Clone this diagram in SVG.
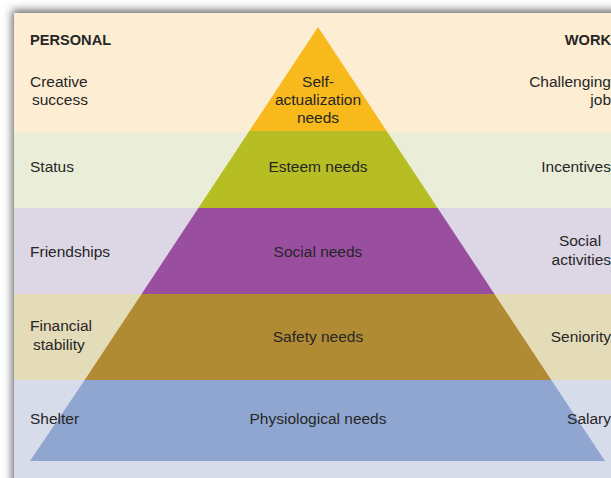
<svg xmlns="http://www.w3.org/2000/svg" width="611" height="478" viewBox="0 0 611 478">
  <defs>
    <filter id="shadow" x="-10%" y="-10%" width="120%" height="120%">
      <feGaussianBlur stdDeviation="4"/>
    </filter>
    <style>
      text { font-family: "Liberation Sans", Arial, sans-serif; font-size: 15.5px; fill: #262626; }
      .head { font-weight: bold; font-size: 14.6px; }
      .mid { text-anchor: middle; }
      .end { text-anchor: end; }
    </style>
  </defs>

  <!-- page and panel shadow -->
  <rect x="0" y="0" width="611" height="478" fill="#ffffff"/>
  <rect x="12" y="10" width="620" height="490" fill="#6a6a6a" filter="url(#shadow)"/>

  <!-- horizontal bands -->
  <g id="bands">
    <rect x="14" y="13" width="597" height="119" fill="#fdeed3"/>
    <rect x="14" y="132" width="597" height="76" fill="#eaeed8"/>
    <rect x="14" y="208" width="597" height="86" fill="#ddd6e5"/>
    <rect x="14" y="294" width="597" height="86" fill="#e4dbb8"/>
    <rect x="14" y="380" width="597" height="98" fill="#d6dcea"/>
  </g>

  <!-- pyramid levels -->
  <g id="self-actualization">
    <polygon points="318,27 386.7,131 249.3,131" fill="#f7b91c"/>
    <text class="mid" x="318" y="87">Self-</text>
    <text class="mid" x="318" y="105">actualization</text>
    <text class="mid" x="318" y="123">needs</text>
  </g>
  <g id="esteem">
    <polygon points="249.3,131 386.7,131 437.6,208 198.4,208" fill="#b6be24"/>
    <text class="mid" x="318" y="172">Esteem needs</text>
  </g>
  <g id="social">
    <polygon points="198.4,208 437.6,208 494.4,294 141.6,294" fill="#9a4ea0"/>
    <text class="mid" x="318" y="257">Social needs</text>
  </g>
  <g id="safety">
    <polygon points="141.6,294 494.4,294 551.3,380 84.7,380" fill="#b08b33"/>
    <text class="mid" x="318" y="342">Safety needs</text>
  </g>
  <g id="physiological">
    <polygon points="84.7,380 551.3,380 605,461 30,461" fill="#8fa7d0"/>
    <text class="mid" x="318" y="424">Physiological needs</text>
  </g>

  <!-- personal column -->
  <g id="personal">
    <text class="head" x="30" y="45">PERSONAL</text>
    <text x="30" y="87">Creative</text>
    <text x="32" y="105">success</text>
    <text x="30" y="172">Status</text>
    <text x="30" y="257">Friendships</text>
    <text x="30" y="331">Financial</text>
    <text x="33" y="350">stability</text>
    <text x="30" y="424">Shelter</text>
  </g>

  <!-- work column -->
  <g id="work">
    <text class="head end" x="611" y="45">WORK</text>
    <text class="end" x="611" y="87">Challenging</text>
    <text class="end" x="611" y="105">job</text>
    <text class="end" x="611" y="172">Incentives</text>
    <text class="mid" x="580" y="246">Social</text>
    <text class="end" x="611" y="265">activities</text>
    <text class="end" x="611" y="342">Seniority</text>
    <text class="end" x="611" y="424">Salary</text>
  </g>
</svg>
